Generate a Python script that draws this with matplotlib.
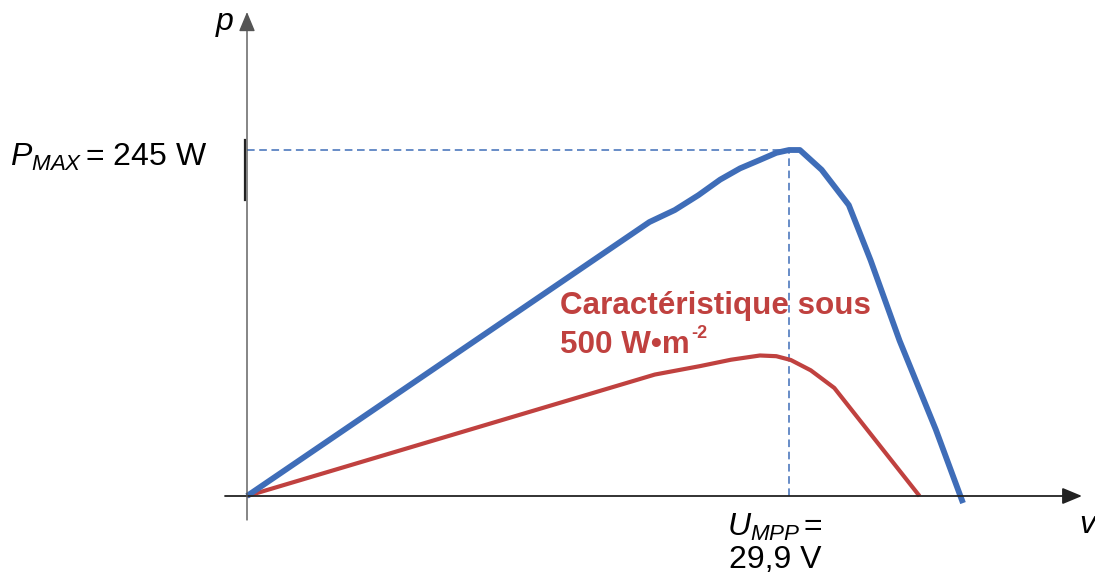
import matplotlib
matplotlib.use("Agg")
import matplotlib.pyplot as plt

plt.rcParams['font.family'] = ['Liberation Sans', 'DejaVu Sans']
plt.rcParams['mathtext.fontset'] = 'custom'
plt.rcParams['mathtext.rm'] = 'Liberation Sans'
plt.rcParams['mathtext.it'] = 'Liberation Sans:italic'
plt.rcParams['mathtext.bf'] = 'Liberation Sans:bold'

# P(V) characteristic at 1000 W/m2 (blue) and 500 W/m2 (red)
blue_v = [0, 22.2, 23.6, 24.9, 26.1, 27.2, 28.3, 29.2, 29.9, 30.5, 31.7, 33.2, 34.4, 36.0, 38.0, 39.5]
blue_p = [0, 194, 202.5, 213, 224, 232, 238, 243, 245, 245, 231, 206, 167, 110, 47, -5]
red_v = [0, 22.5, 25.0, 26.7, 28.3, 29.2, 30.0, 31.1, 32.4, 37.1]
red_p = [0, 86, 92, 96.5, 99.5, 99, 96.3, 89, 76.5, 0]
u_mpp = 29.9
p_max = 245

BLUE = '#3F6DB8'
RED = '#C0413F'

fig = plt.figure(figsize=(10.95, 5.77), dpi=100)
ax = fig.add_axes([0, 0, 1, 1])
ax.axis('off')

# pixel layout: origin at (247, 496), 18.13 px per volt, 1.412 px per watt
sx, sy = 18.127, 1.4122
ax.set_xlim(-247 / sx, (1095 - 247) / sx)
ax.set_ylim(-(577 - 496) / sy, 496 / sy)

# axes with arrows
ax.annotate('', xy=(1082 / sx - 247 / sx, 0), xytext=(-22 / sx, 0),
            arrowprops=dict(arrowstyle='-|>,head_length=1.2,head_width=0.5',
                            color='#222222', lw=1.3, shrinkA=0, shrinkB=0))
ax.annotate('', xy=(0, (496 - 12) / sy), xytext=(0, -24 / sy),
            arrowprops=dict(arrowstyle='-|>,head_length=1.2,head_width=0.5',
                            color='#555555', lw=1.0, shrinkA=0, shrinkB=0))
ax.plot([-0.1, -0.1], [(496 - 200) / sy, (496 - 140) / sy], color='#222222', lw=1.6)

# MPP guides
ax.plot([0, u_mpp], [p_max, p_max], color=BLUE, lw=1.1, ls=(0, (5, 3)))
ax.plot([u_mpp, u_mpp], [0, p_max], color=BLUE, lw=1.1, ls=(0, (5, 3)))

ax.plot(red_v, red_p, color=RED, lw=3.0, solid_capstyle='butt', solid_joinstyle='round')
ax.plot(blue_v, blue_p, color=BLUE, lw=4.2, solid_capstyle='butt', solid_joinstyle='round')

ax.text(216 / 1095, 1 - 22 / 577, 'p', transform=fig.transFigure, fontsize=23,
        style='italic', ha='left', va='center')
ax.text(1079 / 1095, 1 - 525 / 577, 'v', transform=fig.transFigure, fontsize=23,
        style='italic', ha='left', va='center')
ax.text(10 / 1095, 1 - 157 / 577, r'$P_{MAX}\,$= 245 W', transform=fig.transFigure,
        fontsize=23, ha='left', va='center')
ax.text(775 / 1095, 1 - 527 / 577, r'$U_{MPP}\,$=', transform=fig.transFigure,
        fontsize=23, ha='center', va='center')
ax.text(775 / 1095, 1 - 560 / 577, '29,9 V', transform=fig.transFigure,
        fontsize=23, ha='center', va='center')
ax.text(560 / 1095, 1 - 306 / 577, 'Caractéristique sous', transform=fig.transFigure,
        fontsize=22.6, fontweight='bold', color=RED, ha='left', va='center')
ax.text(560 / 1095, 1 - 345 / 577, '500 W•m', transform=fig.transFigure,
        fontsize=22.6, fontweight='bold', color=RED, ha='left', va='center')
ax.text(691 / 1095, 1 - 334 / 577, '-2', transform=fig.transFigure,
        fontsize=13, fontweight='bold', color=RED, ha='left', va='center')

fig.savefig('out.png', dpi=100)
